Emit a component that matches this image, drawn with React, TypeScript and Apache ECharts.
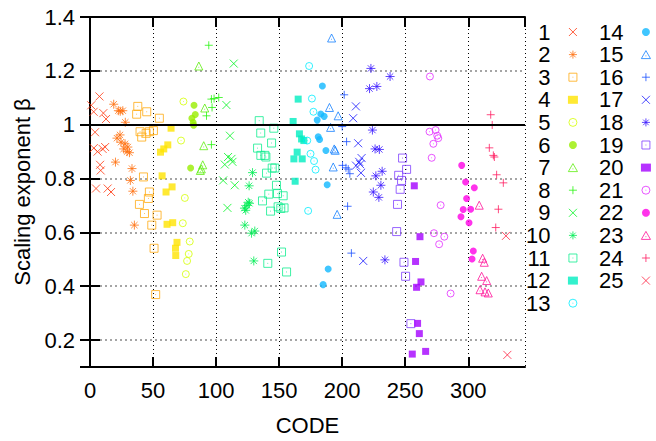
import React, { useEffect, useRef } from "react";
import * as echarts from "echarts";

const FONT = "'Liberation Sans', Arial, Helvetica, sans-serif";

const seriesNames = ["1","2","3","4","5","6","7","8","9","10","11","12","13","14","15","16","17","18","19","20","21","22","23","24","25"];

const seriesColors = [
  "#ff3a12", "#ff7010", "#ffaa10", "#ffe400", "#d4ff00", "#99ee00", "#5fee10", "#28f510",
  "#00f520", "#00ee55", "#10ee90", "#00eec0", "#00eeff", "#10b8ff", "#1480ff", "#1a50ff",
  "#1818ff", "#3a18ff", "#8040ff", "#a400ff", "#e22cff", "#ff00e6", "#ff1299", "#ff1e62", "#ff2040",
];

const markerKinds = [
  "x", "star", "sq", "fsq", "circ", "fcirc", "tri", "plus",
  "x", "star", "sq", "fsq", "circ", "fcirc", "tri", "plus",
  "x", "star", "sq", "fsq", "circ", "fcirc", "tri", "plus", "x",
];

const s1 = [[1,1.072],[7.5,1.105],[2.9,1.048],[10.6,1.043],[12.7,1.021],[4,0.972],[3,0.913],[6,0.9],[10,0.91],[12,0.917],[8,0.851],[8.5,0.83],[4.8,0.763],[14,0.763],[16.7,0.75]];
const s2 = [[18.8,1.076],[22.5,1.052],[26,1.052],[24,1.05],[28,1.009],[23.8,0.962],[21.4,0.95],[24.6,0.935],[27.8,0.929],[30,0.917],[26.7,0.91],[29.4,0.9],[31.3,0.896],[20.2,0.861],[33.3,0.837],[32,0.793],[34,0.753],[35.2,0.627]];
const s3 = [[37.9,1.068],[37,1.039],[45,1.048],[55,1.024],[39.7,0.974],[41,0.954],[44.5,0.968],[47.1,0.974],[50.3,0.978],[42.4,0.806],[47.1,0.75],[46.3,0.726],[39.2,0.704],[43.2,0.67],[53.2,0.664],[49,0.627],[50.8,0.541],[52.1,0.369]];
const s4 = [[64.3,0.987],[61.7,0.925],[58.5,0.91],[55.9,0.898],[57.2,0.81],[65.1,0.769],[60.3,0.75],[65.6,0.636],[61.1,0.63],[69,0.563],[67.8,0.541],[68,0.514]];
const s5 = [[74.1,1.086],[72.2,0.941],[75.2,0.728],[73.6,0.634],[79.1,0.566],[78.3,0.52],[77,0.494],[76,0.445]];
const s6 = [[82.5,1.072],[83.5,1.038],[80.8,1.024],[81.8,1.008],[82.2,0.998],[79.8,0.839]];
const s7 = [[86.3,1.218],[91,1.062],[90.2,0.922],[89.4,0.851],[88.3,0.836],[87.5,0.83]];
const s8 = [[94.2,1.295],[96.3,1.095],[98.4,1.097],[102.1,1.101],[96.8,1.064],[92.4,1.033],[96.3,0.926]];
const s9 = [[114,1.227],[108.2,1.073],[111,0.959],[109.5,0.88],[112.2,0.873],[113,0.862],[106.9,0.852],[105.6,0.793],[114.8,0.775],[109,0.691]];
const s10 = [[128.9,0.822],[126.2,0.773],[122.5,0.69],[124.5,0.7],[126.5,0.708],[123.5,0.682],[125.5,0.712],[122.8,0.627],[128.1,0.597],[130.7,0.605],[129.9,0.494]];
const s11 = [[134.2,1.015],[145.8,0.987],[135.4,0.969],[144,0.932],[132.9,0.913],[135.5,0.886],[138.7,0.886],[139.5,0.88],[144.5,0.839],[146.6,0.839],[140,0.82],[147.9,0.775],[141.8,0.742],[148.7,0.744],[153.2,0.736],[136.8,0.717],[143.2,0.679],[149.2,0.695],[151.3,0.689],[153.9,0.691],[151.9,0.527],[141,0.485],[155.9,0.453]];
const s12 = [[165.1,1.095],[161.1,1.012],[166.1,0.966],[167.8,0.947],[169.6,0.941],[164.3,0.898],[161.7,0.873],[168.3,0.873],[162.7,0.79]];
const s13 = [[173.8,1.218],[176,1.097],[177.2,1.048],[172.3,0.941],[174.9,0.892],[177.7,0.865],[178.9,0.833],[173,0.68]];
const s14 = [[184.3,1.144],[183,1.04],[185.7,1.031],[180.2,1.017],[181,0.955],[182.1,0.945],[187.1,0.904],[188.1,0.777],[188.9,0.464],[184.9,0.406]];
const s15 = [[191.6,1.322],[189.9,1.064],[196.8,1.033],[190.8,0.99],[193.7,0.91],[194.5,0.905],[192.9,0.843],[196,0.667]];
const s16 = [[201.6,1.111],[200,0.993],[203.5,0.937],[200.3,0.849],[203,0.84],[204.8,0.835],[206.1,0.818],[204.3,0.697],[207.3,0.523]];
const s17 = [[210.9,1.068],[208.7,1.024],[212.7,0.931],[215.4,0.876],[213.5,0.862],[211,0.848],[214.3,0.853],[214.9,0.821],[216.7,0.494]];
const s18 = [[222.8,1.209],[238,1.179],[221.7,1.134],[227.5,1.142],[224,0.98],[226.1,0.91],[229.5,0.908],[226.7,0.81],[231.7,0.827],[230.7,0.775],[224.7,0.75],[229.1,0.73],[233.9,0.498]];
const s19 = [[247.9,0.876],[251.1,0.834],[244.8,0.812],[247.1,0.793],[246,0.76],[243.9,0.704],[243.2,0.603],[249,0.489],[250.3,0.437],[254.5,0.261]];
const s20 = [[257.2,0.773],[261.7,0.584],[258.2,0.492],[262.5,0.416],[259,0.396],[259.8,0.262],[261.2,0.224],[255.6,0.148],[266.2,0.158]];
const s21 = [[269.6,1.179],[269.3,0.974],[274.1,0.98],[275.4,0.959],[276.2,0.95],[272.3,0.929],[271,0.877],[278.1,0.701],[272.8,0.597],[281,0.584],[276.9,0.556],[286,0.373]];
const s22 = [[294.8,0.849],[297.9,0.787],[304.8,0.766],[298.7,0.726],[296,0.685],[301.9,0.686],[294.2,0.658],[300.6,0.636],[304,0.531],[303,0.501]];
const s23 = [[308.7,0.701],[311.4,0.504],[312.7,0.489],[310.6,0.437],[314.6,0.421],[309.3,0.387],[313.3,0.379],[315.9,0.375]];
const s24 = [[317.8,1.037],[319,0.999],[316.7,0.914],[319.9,0.886],[320.7,0.88],[322.5,0.814],[327.8,0.784],[323.9,0.686],[321.8,0.618]];
const s25 = [[329.9,0.587],[331,0.145]];

const seriesData = [s1,s2,s3,s4,s5,s6,s7,s8,s9,s10,s11,s12,s13,s14,s15,s16,s17,s18,s19,s20,s21,s22,s23,s24,s25];

const xRange = [0, 345];
const yRange = [0.1, 1.4];
const referenceLevel = 1;

const SYMBOLS: Record<string, string> = {
  x: "path://M0,0L8,8M8,0L0,8",
  star: "path://M4,0L4,8M0,4L8,4M1.2,1.2L6.8,6.8M6.8,1.2L1.2,6.8",
  sq: "path://M0,0L8,0L8,8L0,8ZM3.6,4L4.4,4",
  fsq: "rect",
  circ: "path://M0,4A4,4,0,1,1,8,4A4,4,0,1,1,0,4ZM3.6,4L4.4,4",
  fcirc: "circle",
  tri: "path://M4,0L8,7L0,7ZM3.6,4.6L4.4,4.6",
  plus: "path://M4,0L4,8M0,4L8,4",
};
const SIZES: Record<string, number> = { x: 8, star: 9, sq: 8, fsq: 7, circ: 7, fcirc: 7, tri: 8, plus: 8 };
const OPEN: Record<string, boolean> = { x: true, star: true, sq: true, fsq: false, circ: true, fcirc: false, tri: true, plus: true };

function styleFor(kind: string, c: string) {
  return OPEN[kind]
    ? { color: "transparent", borderColor: c, borderWidth: 1 }
    : { color: c, borderColor: c, borderWidth: 0 };
}

function buildOption() {
  const series: any[] = seriesData.map((d, i) => {
    const kind = markerKinds[i];
    const s: any = {
      type: "scatter",
      name: seriesNames[i],
      data: d,
      symbol: SYMBOLS[kind],
      symbolSize: SIZES[kind],
      itemStyle: styleFor(kind, seriesColors[i]),
      emphasis: { disabled: true },
    };
    if (i === 0) {
      s.markLine = {
        silent: true,
        symbol: "none",
        label: { show: false },
        lineStyle: { color: "#000", width: 2, type: "solid" },
        data: [{ yAxis: referenceLevel }],
      };
    }
    return s;
  });

  const legendItem = (i: number) => {
    const kind = markerKinds[i];
    return { name: seriesNames[i], icon: SYMBOLS[kind], itemStyle: styleFor(kind, seriesColors[i]) };
  };
  const legendBase = {
    orient: "vertical",
    top: 20.7,
    padding: 0,
    itemGap: 0,
    itemWidth: 10,
    itemHeight: 8,
    align: "right",
    selectedMode: false,
    textStyle: { fontSize: 22, lineHeight: 22.6, color: "#000", fontFamily: FONT, padding: [0, 12.5, 0, 0] },
  };

  const axisLine = { show: true, lineStyle: { color: "#000", width: 2 } };
  const axisTick = { show: true, inside: true, length: 10, lineStyle: { color: "#000", width: 2 } };

  return {
    animation: false,
    backgroundColor: "#fff",
    grid: { left: 90, right: 131, top: 17, bottom: 72, containLabel: false },
    legend: [
      { ...legendBase, right: 78, data: seriesNames.slice(0, 13).map((_, i) => legendItem(i)) },
      { ...legendBase, right: 5, data: seriesNames.slice(13).map((_, i) => legendItem(i + 13)) },
    ],
    xAxis: [
      {
        type: "value", min: xRange[0], max: xRange[1], interval: 50, position: "bottom",
        axisLine, axisTick,
        axisLabel: { fontSize: 22, color: "#000", margin: 12, showMaxLabel: false, fontFamily: FONT },
        splitLine: { show: true, lineStyle: { color: "#000", width: 1, type: [1, 3] } },
        name: "CODE", nameLocation: "middle", nameGap: 47,
        nameTextStyle: { fontSize: 22, color: "#000", fontFamily: FONT },
      },
      {
        type: "value", min: xRange[0], max: xRange[1], interval: 50, position: "top",
        axisLine, axisTick, axisLabel: { show: false }, splitLine: { show: false },
      },
    ],
    yAxis: [
      {
        type: "value", min: yRange[0], max: yRange[1], splitNumber: 6, position: "left",
        axisLine, axisTick,
        axisLabel: { fontSize: 22, color: "#000", margin: 15, showMinLabel: false, fontFamily: FONT },
        splitLine: { show: true, lineStyle: { color: "#888", width: 1.5, type: [2, 3] } },
        name: "Scaling exponent β", nameLocation: "middle", nameGap: 52,
        nameTextStyle: { fontSize: 22, color: "#000", fontFamily: FONT },
      },
      {
        type: "value", min: yRange[0], max: yRange[1], splitNumber: 6, position: "right",
        axisLine, axisTick, axisLabel: { show: false }, splitLine: { show: false },
      },
    ],
    series,
  };
}

export default function App() {
  const ref = useRef<HTMLDivElement>(null);
  useEffect(() => {
    if (!ref.current) return;
    const chart = echarts.init(ref.current, undefined, { renderer: "svg" });
    chart.setOption(buildOption() as any);
    return () => chart.dispose();
  }, []);
  return <div ref={ref} style={{ width: 656, height: 441, position: "absolute", left: 0, top: 0 }} />;
}
